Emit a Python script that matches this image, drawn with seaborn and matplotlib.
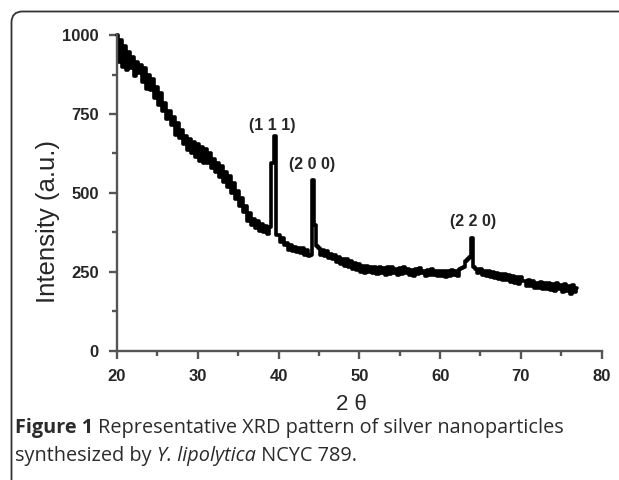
import numpy as np
import pandas as pd
import matplotlib
matplotlib.use("Agg")
import matplotlib.pyplot as plt
import seaborn as sns
from matplotlib.patches import FancyBboxPatch
from matplotlib.transforms import IdentityTransform
from matplotlib.ticker import MultipleLocator

# 2-theta grid, 0.25 deg step from 20 to 77
two_theta = np.arange(20, 77.01, 0.25)

# intensity, four readings per degree
intensity = [
    1000, 915, 985, 900,   # 20
    965, 890, 945, 895,    # 21
    930, 870, 915, 880,    # 22
    905, 850, 895, 830,    # 23
    875, 825, 860, 800,    # 24
    835, 780, 815, 760,    # 25
    785, 735, 760, 715,    # 26
    740, 685, 720, 675,    # 27
    700, 655, 680, 635,    # 28
    670, 625, 660, 615,    # 29
    655, 600, 645, 595,    # 30
    638, 595, 628, 580,    # 31
    608, 565, 595, 550,    # 32
    585, 535, 565, 520,    # 33
    555, 500, 530, 480,    # 34
    505, 460, 485, 440,    # 35
    458, 412, 435, 398,    # 36
    418, 388, 410, 380,    # 37
    402, 375, 396, 370,    # 38
    392, 595, 680, 368,    # 39  (1 1 1)
    368, 345, 358, 335,    # 40
    340, 320, 334, 315,    # 41
    330, 312, 326, 310,    # 42
    325, 305, 320, 300,    # 43
    302, 541, 400, 332,    # 44  (2 0 0)
    325, 305, 318, 300,    # 45
    315, 295, 308, 290,    # 46
    305, 280, 298, 275,    # 47
    290, 270, 292, 265,    # 48
    285, 260, 278, 255,    # 49
    275, 250, 268, 245,    # 50
    270, 250, 264, 245,    # 51
    266, 243, 266, 245,    # 52
    262, 240, 264, 243,    # 53
    266, 245, 259, 240,    # 54
    262, 243, 266, 245,    # 55
    259, 240, 256, 236,    # 56
    259, 243, 262, 245,    # 57
    254, 238, 256, 240,    # 58
    259, 240, 254, 236,    # 59
    254, 238, 252, 234,    # 60
    254, 238, 256, 240,    # 61
    252, 236, 258, 262,    # 62
    265, 285, 291, 296,    # 63
    356, 264, 258, 246,    # 64  (2 2 0)
    259, 240, 254, 236,    # 65
    252, 233, 249, 230,    # 66
    246, 227, 244, 223,    # 67
    242, 223, 239, 217,    # 68
    236, 215, 234, 213,    # 69
    234, 220, 222, 205,    # 70
    224, 205, 220, 200,    # 71
    216, 200, 219, 195,    # 72
    214, 195, 216, 193,    # 73
    212, 190, 214, 195,    # 74
    210, 185, 212, 190,    # 75
    205, 180, 210, 185,    # 76
    200,                   # 77
]

peak_labels = ["(1 1 1)", "(2 0 0)", "(2 2 0)"]
peak_label_x = [39.2, 44.1, 64.1]
peak_label_y = [715, 590, 410]

df = pd.DataFrame({"two_theta": two_theta, "intensity": intensity})

sns.set_style("white")
plt.rcParams["font.family"] = ["Liberation Sans", "DejaVu Sans"]

fig = plt.figure(figsize=(6.19, 4.8), dpi=100)
ax = fig.add_axes([0.189, 0.269, 0.783, 0.658])

sns.lineplot(data=df, x="two_theta", y="intensity", ax=ax, color="black",
             linewidth=2.6, drawstyle="steps-mid", sort=False, clip_on=False)

for lab, px, py in zip(peak_labels, peak_label_x, peak_label_y):
    ax.text(px, py, lab, ha="center", va="center", fontsize=11.5,
            fontweight="bold")

ax.set_xlim(20, 80)
ax.set_ylim(0, 1000)
ax.xaxis.set_major_locator(MultipleLocator(10))
ax.xaxis.set_minor_locator(MultipleLocator(5))
ax.yaxis.set_major_locator(MultipleLocator(250))
ax.yaxis.set_minor_locator(MultipleLocator(125))

for s in ["top", "right"]:
    ax.spines[s].set_visible(False)
for s in ["left", "bottom"]:
    ax.spines[s].set_color("#555555")
    ax.spines[s].set_linewidth(1.7)

ax.tick_params(which="major", direction="out", length=6, width=1.7,
               color="#555555", labelsize=12, pad=7)
ax.tick_params(which="minor", direction="out", length=3.5, width=1.7,
               color="#555555")
ax.tick_params(axis="both", which="both", bottom=True, left=True)
for t in ax.get_xticklabels() + ax.get_yticklabels():
    t.set_fontweight("bold")

ax.set_xlabel("2 θ", fontsize=16)
ax.xaxis.set_label_coords(0.484, -0.135)
ax.set_ylabel("Intensity (a.u.)", fontsize=18.5)
ax.yaxis.set_label_coords(-0.118, 0.41)

# caption, written run by run
cap_font = ["Open Sans", "DejaVu Sans"]
cap_size = 14.3
fig.canvas.draw()
renderer = fig.canvas.get_renderer()


def caption_line(runs, x0, y):
    x = x0
    for txt, weight, style in runs:
        t = fig.text(x / 619, 1 - y / 480, txt, fontsize=cap_size,
                     fontweight=weight, style=style, color="#2b2b2b",
                     family=cap_font, va="baseline")
        x += t.get_window_extent(renderer).width


caption_line([("Figure 1 ", "bold", "normal"),
              ("Representative XRD pattern of silver nanoparticles",
               "normal", "normal")], 15, 433)
caption_line([("synthesized by ", "normal", "normal"),
              ("Y. lipolytica", "normal", "italic"),
              (" NCYC 789.", "normal", "normal")], 15, 461)

# rounded frame, cut off at right and bottom
frame = FancyBboxPatch((11.5, -60), 700, 480 - 11.5 + 60,
                       boxstyle="round,pad=0,rounding_size=11",
                       transform=IdentityTransform(), fill=False,
                       edgecolor="#333333", linewidth=1.3)
fig.add_artist(frame)

fig.savefig("out.png", dpi=100)
